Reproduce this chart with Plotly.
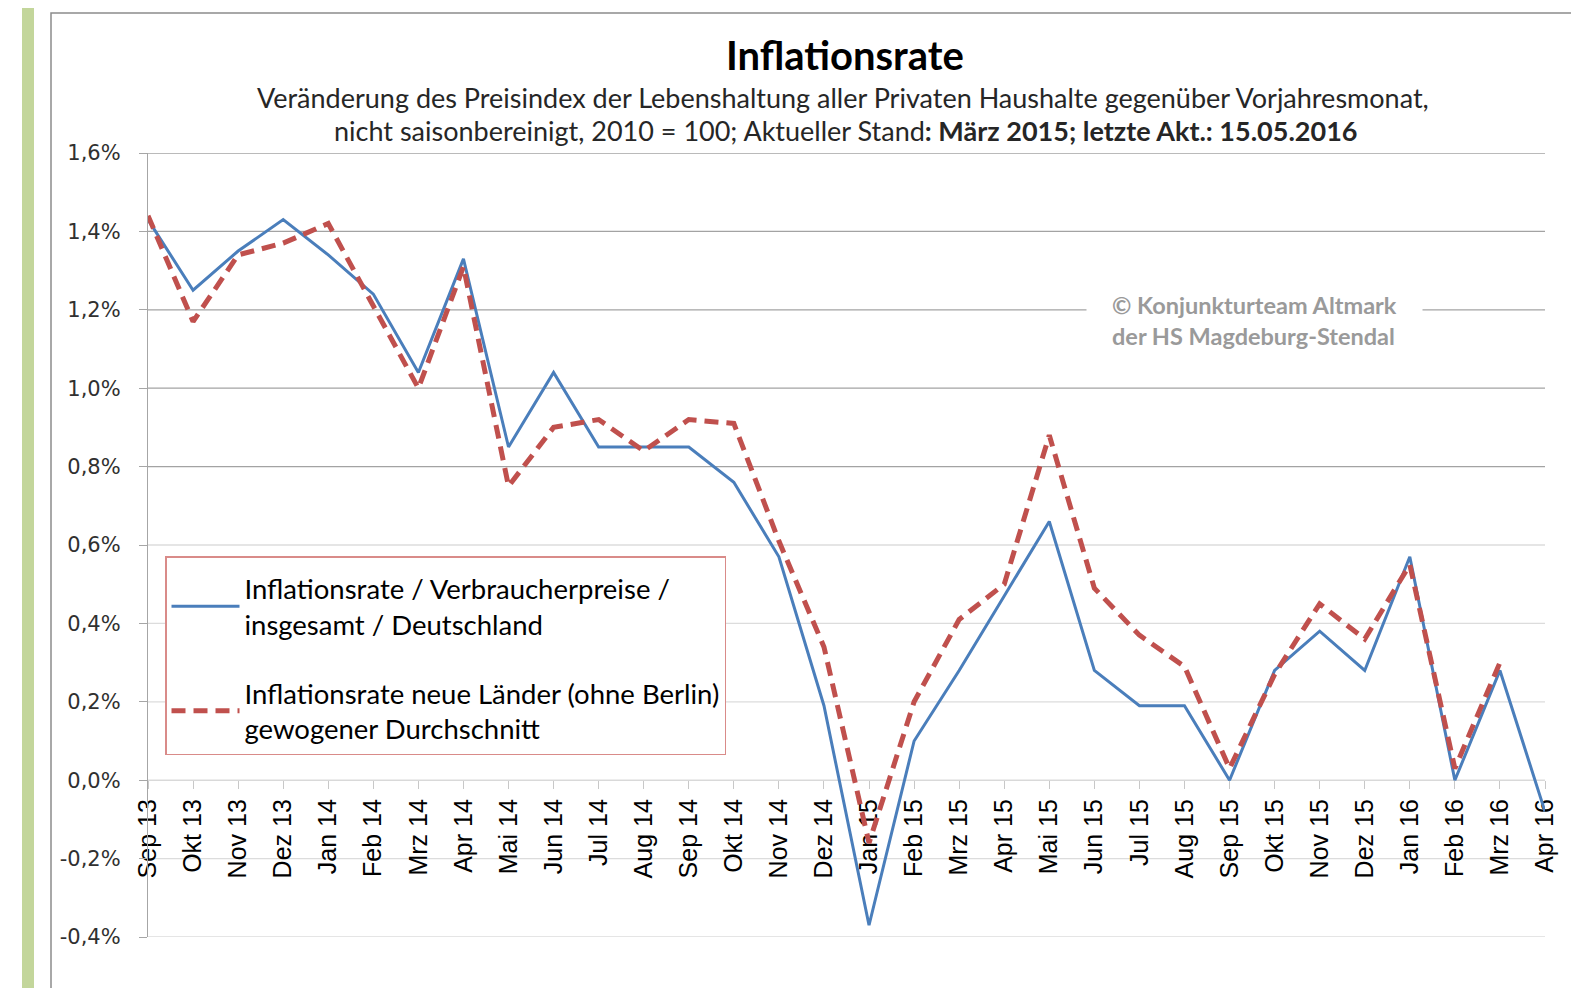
import plotly.graph_objects as go

months = ["Sep 13", "Okt 13", "Nov 13", "Dez 13", "Jan 14", "Feb 14", "Mrz 14", "Apr 14",
          "Mai 14", "Jun 14", "Jul 14", "Aug 14", "Sep 14", "Okt 14", "Nov 14", "Dez 14",
          "Jan 15", "Feb 15", "Mrz 15", "Apr 15", "Mai 15", "Jun 15", "Jul 15", "Aug 15",
          "Sep 15", "Okt 15", "Nov 15", "Dez 15", "Jan 16", "Feb 16", "Mrz 16", "Apr 16"]

vpi_deutschland = [1.43, 1.25, 1.35, 1.43, 1.34, 1.24, 1.04, 1.33, 0.85, 1.04, 0.85, 0.85,
                   0.85, 0.76, 0.57, 0.19, -0.37, 0.10, 0.28, 0.47, 0.66, 0.28, 0.19, 0.19,
                   0.00, 0.28, 0.38, 0.28, 0.57, 0.00, 0.28, -0.08]

neue_laender = [1.44, 1.17, 1.34, 1.37, 1.42, 1.21, 1.00, 1.31, 0.75, 0.90, 0.92, 0.84,
                0.92, 0.91, 0.61, 0.34, -0.16, 0.20, 0.41, 0.50, 0.88, 0.49, 0.37, 0.29,
                0.03, 0.27, 0.45, 0.36, 0.55, 0.03, 0.30, None]

name_blue = "Inflationsrate / Verbraucherpreise /<br>insgesamt / Deutschland"
name_red = "Inflationsrate neue Länder (ohne Berlin)<br>gewogener Durchschnitt"

y_ticks = [-0.4, -0.2, 0.0, 0.2, 0.4, 0.6, 0.8, 1.0, 1.2, 1.4, 1.6]
y_tick_text = ["-0,4%", "-0,2%", "0,0%", "0,2%", "0,4%", "0,6%", "0,8%", "1,0%", "1,2%", "1,4%", "1,6%"]
dark_grid = [0.8, 1.0, 1.2, 1.4, 1.6]
light_grid = [-0.4, -0.2, 0.0, 0.2, 0.4, 0.6]

title = "Inflationsrate"
sub1 = "Veränderung des Preisindex der Lebenshaltung aller Privaten Haushalte gegenüber Vorjahresmonat,"
sub2 = "nicht saisonbereinigt, 2010 = 100; Aktueller Stand<b>: März 2015; letzte Akt.: 15.05.2016</b>"
watermark_lines = ["© Konjunkturteam Altmark", "der HS Magdeburg-Stendal"]

# page body has an 8px margin, so the figure is drawn 8px right/down
OFF = 8
W, H = 1579 - OFF, 988 - OFF
L, R, T, B = 148, 1545, 153, 937  # plot area in screen pixels


def px(xpix):
    return (xpix - L) / (R - L)


def py(ypix):
    return (B - ypix) / (B - T)


fig = go.Figure()
fig.add_trace(go.Scatter(x=months, y=vpi_deutschland, mode="lines", name=name_blue,
                         line=dict(color="#4a7ebb", width=3), legendgroup="a"))
fig.add_trace(go.Scatter(x=months, y=neue_laender, mode="lines", name=name_red,
                         line=dict(color="#c0504d", width=5, dash="14px,8px"), legendgroup="b"))

shapes = []
# green side bar
shapes.append(dict(type="rect", xref="paper", yref="paper", x0=px(22), x1=px(34),
                   y0=py(1000), y1=py(-10), fillcolor="#c3d69b", line=dict(width=0), layer="below"))
# chart frame
shapes.append(dict(type="rect", xref="paper", yref="paper", x0=px(51), x1=px(1574),
                   y0=py(1010), y1=py(13), fillcolor="rgba(0,0,0,0)",
                   line=dict(color="#8c8c8c", width=1.5), layer="below"))
for v in light_grid:
    shapes.append(dict(type="line", xref="paper", yref="y", x0=0, x1=1, y0=v, y1=v,
                       line=dict(color="#dcdcdc", width=1.3), layer="below"))
for v in dark_grid:
    shapes.append(dict(type="line", xref="paper", yref="y", x0=0, x1=1, y0=v, y1=v,
                       line=dict(color="#a3a3a3", width=1.3), layer="below"))

annotations = [
    dict(text="<b>" + title + "</b>", x=px(845), y=py(55), xref="paper", yref="paper",
         showarrow=False, xanchor="center", yanchor="middle",
         font=dict(family="Lato", size=40, color="#000000")),
    dict(text=sub1, x=px(843), y=py(98), xref="paper", yref="paper", showarrow=False,
         xanchor="center", yanchor="middle", font=dict(family="Lato", size=27, color="#262626")),
    dict(text=sub2, x=px(845), y=py(131), xref="paper", yref="paper", showarrow=False,
         xanchor="center", yanchor="middle", font=dict(family="Lato", size=27, color="#262626")),
    dict(text="<br>".join("<b>" + s + "</b>" for s in watermark_lines),
         x=px(1086), y=py(320), xref="paper", yref="paper", showarrow=False,
         xanchor="left", yanchor="middle", align="left", bgcolor="#ffffff", borderpad=25,
         font=dict(family="Lato", size=23.5, color="#9a9a9a")),
]

fig.update_layout(
    width=W, height=H,
    margin=dict(l=L - OFF, r=W - (R - OFF), t=T - OFF, b=H - (B - OFF)),
    paper_bgcolor="#ffffff", plot_bgcolor="#ffffff",
    showlegend=True,
    legend=dict(x=px(165), y=py(556), xanchor="left", yanchor="top",
                bgcolor="#ffffff", bordercolor="#d98b89", borderwidth=1.5,
                font=dict(family="Lato", size=27.5, color="#000000"),
                title=dict(text=" ", font=dict(size=5)),
                tracegroupgap=30, traceorder="grouped", itemwidth=68),
    shapes=shapes,
    annotations=annotations,
    xaxis=dict(type="category", range=[0, len(months) - 1], anchor="free",
               position=0.2, showgrid=False, showline=True, linecolor="#d9d9d9",
               ticks="outside", ticklen=8, tickcolor="#c8c8c8", tickangle=-90,
               tickfont=dict(family="Liberation Sans", size=25, color="#000000"),
               layer="below traces"),
    yaxis=dict(range=[-0.4, 1.6], tickvals=y_ticks, ticktext=y_tick_text,
               showgrid=False, zeroline=False,
               showline=True, linecolor="#a6a6a6", linewidth=1.3,
               ticks="outside", ticklen=8, tickcolor="#a6a6a6",
               ticklabelstandoff=14,
               tickfont=dict(family="DejaVu Sans", size=21, color="#303030")),
)

fig.write_html("out.html")
